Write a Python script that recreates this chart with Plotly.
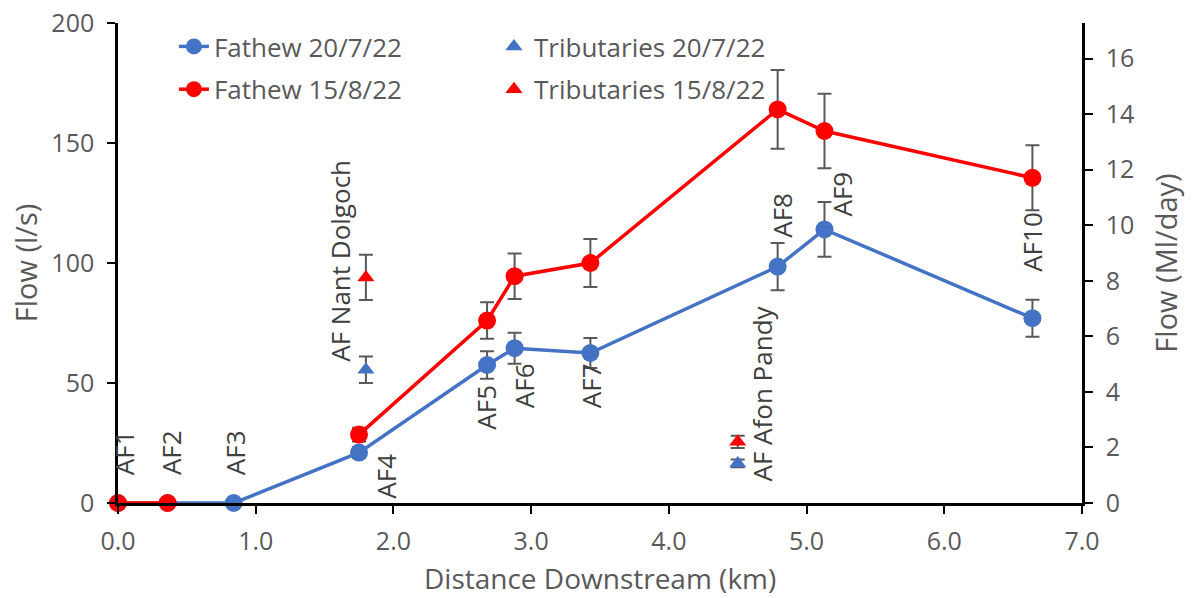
import plotly.graph_objects as go

# Main channel sampling sites (distance downstream in km, flow in l/s)
sites = ["AF1", "AF2", "AF3", "AF4", "AF5", "AF6", "AF7", "AF8", "AF9", "AF10"]
distance_km = [0.0, 0.36, 0.84, 1.75, 2.68, 2.88, 3.43, 4.79, 5.13, 6.64]
flow_jul = [0, 0, 0, 21, 57.5, 64.5, 62.5, 98.5, 114, 77]
flow_aug = [0, 0, None, 28.5, 76, 94.5, 100, 164, 155, 135.5]

# Tributary inflows
trib_names = ["AF Nant Dolgoch", "AF Afon Pandy"]
trib_km = [1.80, 4.50]
trib_jul = [55.5, 16.5]
trib_aug = [94, 25.5]

# Error bars are +/-10 % of each reading
err_pct = 10

BLUE = "#4472C4"
RED = "#FF0000"
GREY = "#595959"
FONT = "Open Sans"

fig = go.Figure()

err = dict(type="percent", value=err_pct, color=GREY, thickness=2, width=7)

fig.add_trace(go.Scatter(
    x=distance_km, y=flow_jul, name="Fathew 20/7/22", mode="lines+markers",
    line=dict(color=BLUE, width=3.5), marker=dict(color=BLUE, size=18),
    error_y=err, cliponaxis=False, legend="legend", legendgroup="a"))
fig.add_trace(go.Scatter(
    x=distance_km, y=flow_aug, name="Fathew 15/8/22", mode="lines+markers",
    line=dict(color=RED, width=3.5), marker=dict(color=RED, size=18),
    error_y=err, cliponaxis=False, connectgaps=False, legend="legend", legendgroup="b"))
fig.add_trace(go.Scatter(
    x=trib_km, y=trib_jul, name="Tributaries 20/7/22", mode="markers",
    marker=dict(color=BLUE, size=15, symbol="triangle-up"),
    error_y=err, cliponaxis=False, legend="legend2", legendgroup="c"))
fig.add_trace(go.Scatter(
    x=trib_km, y=trib_aug, name="Tributaries 15/8/22", mode="markers",
    marker=dict(color=RED, size=15, symbol="triangle-up"),
    error_y=err, cliponaxis=False, legend="legend2", legendgroup="d"))

# Secondary axis in Ml/day (1 l/s = 0.0864 Ml/day)
fig.add_trace(go.Scatter(x=[None], y=[None], yaxis="y2", showlegend=False, hoverinfo="skip"))

# Site labels, rotated, placed beside each point
label_text = sites + trib_names
label_x = [0.044, 0.385, 0.85, 1.95, 2.67, 2.95, 3.44, 4.82, 5.26, 6.64, 1.61, 4.68]
label_y = [20.8, 20.8, 20.8, 11.2, 40, 48.8, 49, 120, 128.7, 109, 100.8, 45.4]
for t, lx, ly in zip(label_text, label_x, label_y):
    fig.add_annotation(x=lx, y=ly, text=t, textangle=-90, showarrow=False,
                       font=dict(family=FONT, size=26, color="#404040"),
                       xanchor="center", yanchor="middle")

axis_common = dict(showline=True, linecolor="black", linewidth=2.5, ticks="outside",
                   tickcolor="black", tickwidth=2, showgrid=False, automargin=False,
                   zeroline=False, tickfont=dict(family=FONT, size=25, color=GREY))
title_font = dict(family=FONT, size=29, color=GREY)

# x-axis title placed below the tick labels
fig.add_annotation(x=0.5, y=0, xref="paper", yref="paper", yshift=-75,
                   text="Distance Downstream (km)", showarrow=False,
                   font=dict(family=FONT, size=28, color=GREY),
                   xanchor="center", yanchor="middle")

fig.update_layout(
    width=1198, height=598,
    margin=dict(l=118, r=116, t=23, b=95),
    plot_bgcolor="white", paper_bgcolor="white",
    xaxis=dict(range=[0, 7], tickvals=[0, 1, 2, 3, 4, 5, 6, 7],
               ticktext=["0.0", "1.0", "2.0", "3.0", "4.0", "5.0", "6.0", "7.0"],
               ticklen=8, ticklabelstandoff=6,
               **axis_common),
    yaxis=dict(range=[0, 200], dtick=50, ticklen=8, ticklabelstandoff=8,
               title=dict(text="Flow (l/s)", standoff=6, font=title_font),
               **axis_common),
    yaxis2=dict(range=[0, 200 * 0.0864], dtick=2, overlaying="y", side="right",
                ticklen=8, ticklabelstandoff=8,
                title=dict(text="Flow (Ml/day)", standoff=24, font=title_font),
                **axis_common),
    legend=dict(x=0.058, y=1.0, xanchor="left", yanchor="top", bgcolor="rgba(0,0,0,0)",
                font=dict(family=FONT, size=26, color=GREY), tracegroupgap=6,
                traceorder="grouped"),
    legend2=dict(x=0.39, y=1.0, xanchor="left", yanchor="top", bgcolor="rgba(0,0,0,0)",
                 font=dict(family=FONT, size=26, color=GREY), tracegroupgap=6,
                 traceorder="grouped"),
)

fig.write_html("out.html")
